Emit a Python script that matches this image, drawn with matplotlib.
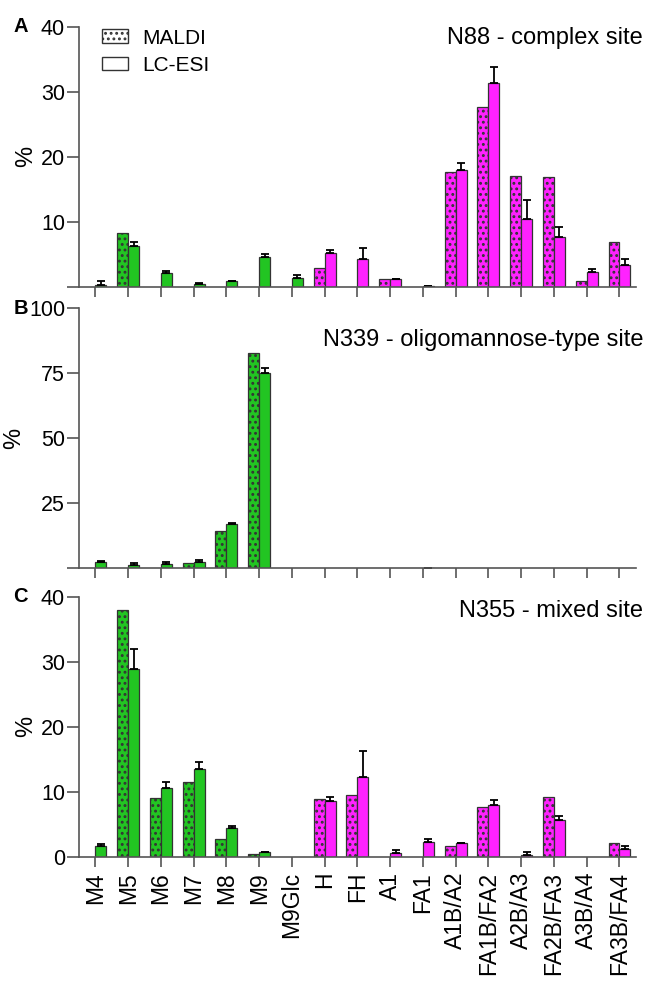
import numpy as np
import matplotlib.pyplot as plt
from matplotlib.patches import Patch

plt.rcParams['font.family'] = ['Liberation Sans', 'DejaVu Sans']
plt.rcParams['hatch.linewidth'] = 1.3
plt.rcParams['hatch.color'] = 'black'

nan = np.nan

# категории гликанов
glycans = ['M4', 'M5', 'M6', 'M7', 'M8', 'M9', 'M9Glc', 'H', 'FH', 'A1', 'FA1',
           'A1B/A2', 'FA1B/FA2', 'A2B/A3', 'FA2B/FA3', 'A3B/A4', 'FA3B/FA4']
n_oligo = 7  # первые 7 - олигоманнозные (зелёные)

# A - N88
maldi_a = [nan, 8.3, nan, nan, nan, nan, nan, 2.8, nan, 1.2, nan, 17.7, 27.7, 17.0, 16.9, 0.9, 6.9]
esi_a = [0.3, 6.2, 2.1, 0.4, 0.8, 4.6, 1.3, 5.1, 4.3, 1.2, 0.1, 17.9, 31.3, 10.4, 7.6, 2.3, 3.3]
err_a = [0.5, 0.7, 0.35, 0.15, 0.05, 0.45, 0.5, 0.5, 1.6, 0, 0, 1.1, 2.5, 2.9, 1.6, 0.45, 1.0]

# B - N339
maldi_b = [nan, nan, nan, 2.2, 14.5, 82.9, nan, nan, nan, nan, nan, nan, nan, nan, nan, nan, nan]
esi_b = [2.4, 1.3, 1.5, 2.4, 17.0, 75.3, nan, nan, nan, nan, 0.2, nan, nan, nan, nan, nan, nan]
err_b = [0.5, 0.9, 0.9, 1.0, 0.5, 1.9, 0, 0, 0, 0, 0, 0, 0, 0, 0, 0, 0]

# C - N355
maldi_c = [nan, 38.0, 9.0, 11.5, 2.7, 0.45, nan, 8.8, 9.5, nan, nan, 1.7, 7.7, nan, 9.2, nan, 2.1]
esi_c = [1.7, 28.9, 10.5, 13.5, 4.4, 0.7, nan, 8.6, 12.3, 0.5, 2.3, 2.1, 8.0, 0.25, 5.7, nan, 1.2]
err_c = [0.3, 3.0, 1.0, 1.0, 0.35, 0, 0, 0.55, 4.0, 0.55, 0.45, 0, 0.7, 0.4, 0.55, 0, 0.4]

panels = [
    ('A', 'N88 - complex site', maldi_a, esi_a, err_a, 40, [0, 10, 20, 30, 40], False),
    ('B', 'N339 - oligomannose-type site', maldi_b, esi_b, err_b, 100, [0, 25, 50, 75, 100], False),
    ('C', 'N355 - mixed site', maldi_c, esi_c, err_c, 40, [0, 10, 20, 30, 40], True),
]

green = '#22c522'
magenta = '#ff22ff'
edge = '#333333'
colors = [green] * n_oligo + [magenta] * (len(glycans) - n_oligo)

fig = plt.figure(figsize=(6.46, 9.84), dpi=100)
bottoms = [0.7087, 0.4224, 0.1294]
title_off = [11, 32, 14]
x = np.arange(len(glycans))
w = 0.335

for i, (letter, title, maldi, esi, err, ymax, yt, show0) in enumerate(panels):
    ax = fig.add_axes([0.1223, bottoms[i], 0.862, 0.2642])
    ax.bar(x - w / 2, maldi, w, color=colors, edgecolor=edge, linewidth=0.9, hatch='...')
    ax.bar(x + w / 2, esi, w, color=colors, edgecolor=edge, linewidth=0.9)
    yerr = [np.zeros(len(err)), err]
    ax.errorbar(x + w / 2, esi, yerr=yerr, fmt='none', ecolor='black',
                elinewidth=1.3, capsize=2.8, capthick=1.3)
    ax.set_xlim(-0.5, len(glycans) - 0.5)
    ax.set_ylim(0, ymax)
    ax.set_yticks(yt)
    ax.set_yticklabels([str(v) if (v != 0 or show0) else '' for v in yt])
    ax.set_xticks(x)
    if i == 2:
        ax.set_xticklabels(glycans, rotation=90)
    else:
        ax.set_xticklabels([])
    for s in ['top', 'right']:
        ax.spines[s].set_visible(False)
    for s in ['left', 'bottom']:
        ax.spines[s].set_color('#555555')
        ax.spines[s].set_linewidth(1.2)
    ax.tick_params(axis='y', length=9, width=1.2, color='#555555', labelsize=15.5, pad=1)
    ax.tick_params(axis='x', length=7, width=1.2, color='#555555', labelsize=16.5, pad=4)
    ax.set_ylabel('%', fontsize=17, labelpad=3)
    ax.text(1.013, 1 - title_off[i] / 260, title, transform=ax.transAxes,
            ha='right', va='center', fontsize=17)
    ax.text(-0.118, 1.0, letter, transform=ax.transAxes, ha='left', va='center',
            fontsize=14.5, fontweight='bold')
    if i == 0:
        handles = [Patch(facecolor='white', edgecolor=edge, hatch='...', label='MALDI'),
                   Patch(facecolor='white', edgecolor=edge, label='LC-ESI')]
        ax.legend(handles=handles, loc='upper left', bbox_to_anchor=(0.008, 1.065),
                  frameon=False, fontsize=15, handlelength=1.25, handleheight=0.65,
                  handletextpad=0.65, labelspacing=0.4)

fig.savefig('out.png', dpi=100)
